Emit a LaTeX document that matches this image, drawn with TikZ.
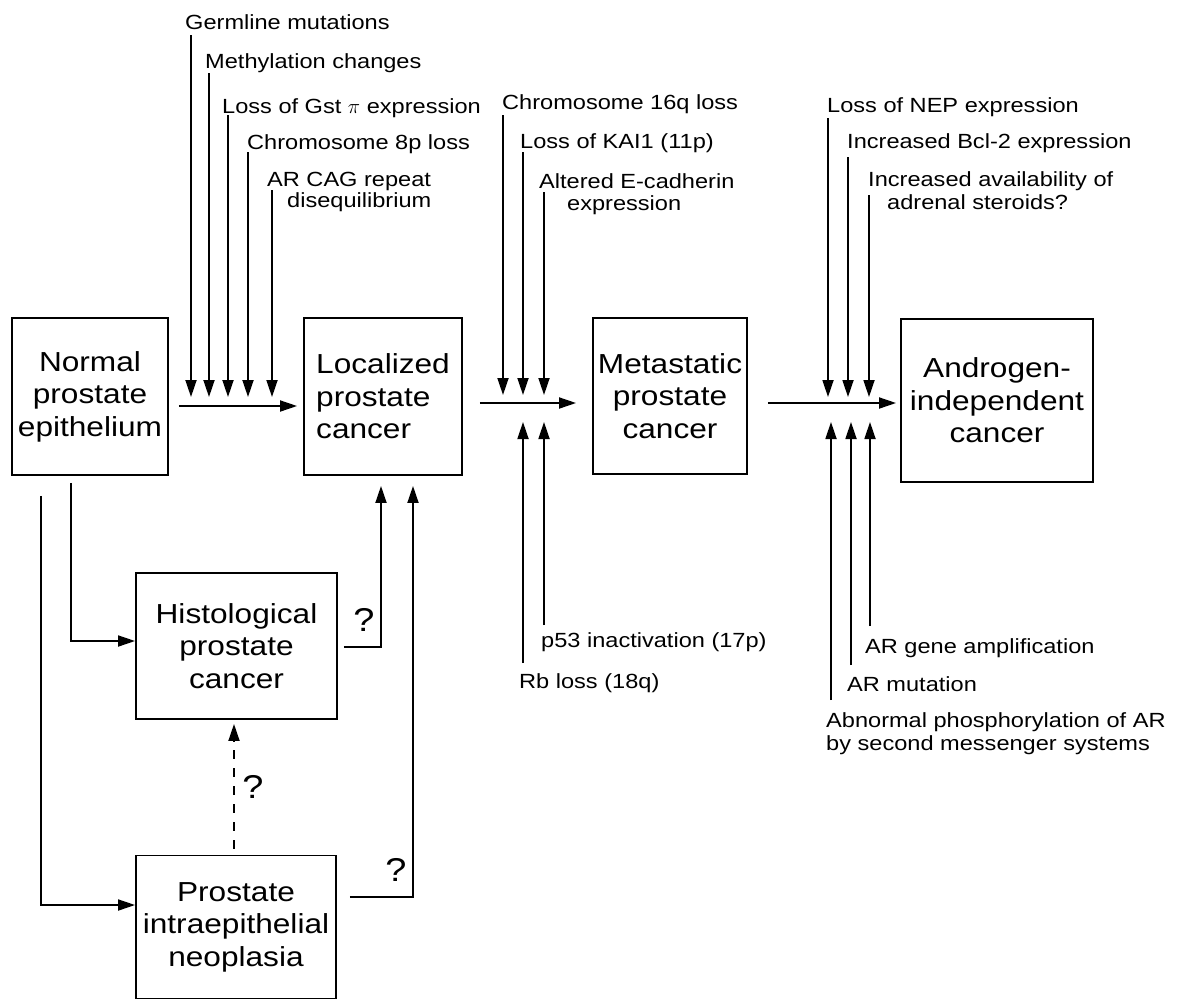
\documentclass[tikz,border=0pt]{standalone}
\usepackage{fontspec}
\setmainfont{Liberation Sans}[FakeStretch=1.15]
\usetikzlibrary{arrows.meta}
\begin{document}
\begin{tikzpicture}[x=1pt,y=-1pt,
  box/.style={draw,line width=1.9pt,inner sep=0pt,font=\fontsize{27.5}{32.5}\selectfont,align=center},
  lbl/.style={anchor=base west,inner sep=0pt,font=\fontsize{20.5}{24}\selectfont},
  qmark/.style={inner sep=0pt,font=\fontsize{33}{34}\selectfont},
  conn/.style={line width=1.8pt},
  arr/.style={conn,-{Triangle[length=17pt,width=11pt]}},
]
\useasboundingbox (0,0) rectangle (1180,1001);

% boxes
\node[box,minimum width=156pt,minimum height=157pt] (normal) at (90,396.5) {Normal\\prostate\\epithelium};
\node[box,align=left,minimum width=158pt,minimum height=157pt] (localized) at (383,396.5) {Localized\\prostate\\cancer};
\node[box,minimum width=154pt,minimum height=156pt] (metastatic) at (670,396) {Metastatic\\prostate\\cancer};
\node[box,minimum width=192pt,minimum height=163pt] (androgen) at (997,400.5) {Androgen-\\independent\\cancer};
\node[box,minimum width=201pt,minimum height=146pt] (hist) at (236.5,646) {Histological\\prostate\\cancer};
\node[box,minimum width=200pt,minimum height=143pt] (pin) at (236,927) {Prostate\\intraepithelial\\neoplasia};

% main horizontal connectors
\draw[arr,shorten <=10pt,shorten >=6pt] (normal.east |- 0,406) -- (localized.west |- 0,406);
\draw[arr,shorten <=17pt,shorten >=16pt] (localized.east |- 0,403) -- (metastatic.west |- 0,403);
\draw[arr,shorten <=20pt,shorten >=4pt] (metastatic.east |- 0,403) -- (androgen.west |- 0,403);

% first group of labels
\node[lbl] (l1) at (185,29) {Germline mutations};
\node[lbl] (l2) at (205,68) {Methylation changes};
\node[lbl] (l3) at (222,113) {Loss of Gst $\pi$ expression};
\node[lbl] (l4) at (247,149) {Chromosome 8p loss};
\node[lbl] (l5) at (267,186) {AR CAG repeat};
\node[lbl] (l5b) at (287,207) {disequilibrium};
\coordinate (a1) at (191,35);
\coordinate (a2) at (209,73);
\coordinate (a3) at (228,115);
\coordinate (a4) at (248,152);
\coordinate (a5) at (272,190);
\foreach \c in {a1,a2,a3,a4,a5} \draw[arr] (\c) -- (\c |- 0,397);

% second group
\node[lbl] (m1) at (502,109) {Chromosome 16q loss};
\node[lbl] (m2) at (520,148) {Loss of KAI1 (11p)};
\node[lbl] (m3) at (539,188) {Altered E-cadherin};
\node[lbl] (m3b) at (567,210) {expression};
\node[lbl] (m4) at (541,647) {p53 inactivation (17p)};
\node[lbl] (m5) at (519,688) {Rb loss (18q)};
\coordinate (b1) at (503,115);
\coordinate (b2) at (523,152);
\coordinate (b3) at (544,192);
\foreach \c in {b1,b2,b3} \draw[arr] (\c) -- (\c |- 0,395);
\coordinate (b4) at (523,663);
\coordinate (b5) at (544,625);
\foreach \c in {b4,b5} \draw[arr] (\c) -- (\c |- 0,422);

% third group
\node[lbl] (n1) at (827,112) {Loss of NEP expression};
\node[lbl] (n2) at (847,148) {Increased Bcl-2 expression};
\node[lbl] (n3) at (868,186) {Increased availability of};
\node[lbl] (n3b) at (887,209) {adrenal steroids?};
\node[lbl] (n4) at (865,653) {AR gene amplification};
\node[lbl] (n5) at (847,691) {AR mutation};
\node[lbl] (n6) at (826,727) {Abnormal phosphorylation of AR};
\node[lbl] (n6b) at (826,750) {by second messenger systems};
\coordinate (c1) at (828,118);
\coordinate (c2) at (848,157);
\coordinate (c3) at (869,195);
\foreach \c in {c1,c2,c3} \draw[arr] (\c) -- (\c |- 0,397);
\coordinate (c4) at (831,700);
\coordinate (c5) at (851,665);
\coordinate (c6) at (870,626);
\foreach \c in {c4,c5,c6} \draw[arr] (\c) -- (\c |- 0,422);

% lower paths
\draw[arr,shorten <=7pt] (normal.south -| 71,0) |- (hist.west |- 0,641);
\draw[arr,shorten <=20pt] (normal.south -| 41,0) |- (pin.west |- 0,905);
\draw[arr,shorten <=6pt,shorten >=10pt] (hist.east |- 0,647) -| (localized.south -| 381,0);
\draw[arr,shorten <=13pt,shorten >=10pt] (pin.east |- 0,897) -| (localized.south -| 413,0);
\draw[arr,dash pattern=on 9pt off 9pt,shorten <=6pt,shorten >=4pt] (pin.north -| 234,0) -- (hist.south -| 234,0);

\node[qmark] (q1) at (364,620) {?};
\node[qmark] (q2) at (253,787) {?};
\node[qmark] (q3) at (396,870) {?};
\end{tikzpicture}
\end{document}
